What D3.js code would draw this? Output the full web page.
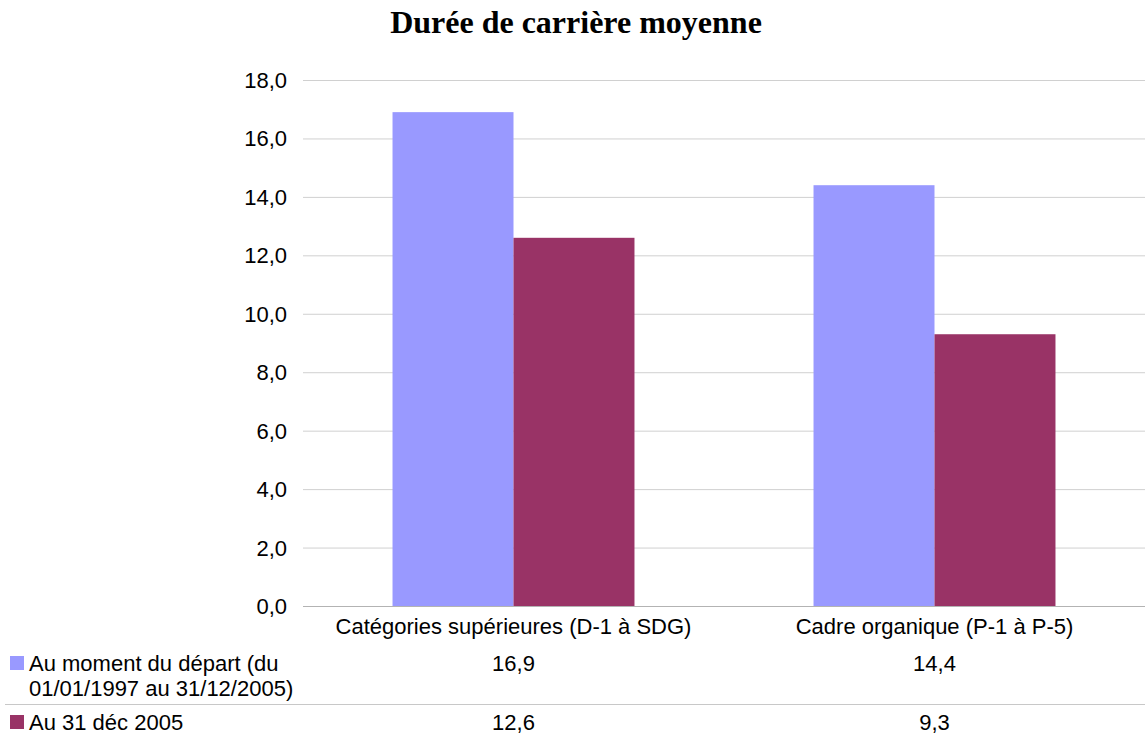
<!DOCTYPE html>
<html>
<head>
<meta charset="utf-8">
<script src="https://cdn.jsdelivr.net/npm/d3@7"></script>
<style>
  body { margin: 0; background: #fff; }
  text { font-family: "Liberation Sans", Arial, sans-serif; fill: #000; }
</style>
</head>
<body>
<script>
const width = 1145;
const height = 736;

const categories = ["Catégories supérieures (D-1 à SDG)", "Cadre organique (P-1 à P-5)"];
const seriesNames = ["Au moment du départ (du\n01/01/1997 au 31/12/2005)", "Au 31 déc 2005"];
const departValues = [16.9, 14.4];
const decValues = [12.6, 9.3];
const yTicks = [0, 2, 4, 6, 8, 10, 12, 14, 16, 18];
const colors = ["#9999ff", "#993366"];

const series = [departValues, decValues];
const fmt = v => d3.format(".1f")(v).replace(".", ",");
const fontSize = "22px";

const svg = d3.select("body").append("svg")
    .attr("width", width)
    .attr("height", height);

svg.append("text")
    .attr("x", 576)
    .attr("y", 33)
    .attr("text-anchor", "middle")
    .style("font-family", "'Liberation Serif', 'Times New Roman', serif")
    .style("font-weight", "bold")
    .style("font-size", "32px")
    .text("Durée de carrière moyenne");

const plotLeft = 303, plotRight = 1145, plotTop = 80, plotBottom = 606;

const x = d3.scaleBand()
    .domain(categories)
    .range([plotLeft, plotRight]);

// two bars per group, ~121px each inside a 421px band
const xInner = d3.scaleBand()
    .domain([0, 1])
    .range([0, x.bandwidth()])
    .paddingInner(0)
    .paddingOuter(0.74);

const y = d3.scaleLinear()
    .domain([0, 18])
    .range([plotBottom, plotTop]);

// grid
svg.append("g").selectAll("line")
    .data(yTicks)
    .join("line")
    .attr("x1", plotLeft)
    .attr("x2", plotRight)
    .attr("y1", d => y(d) + 0.5)
    .attr("y2", d => y(d) + 0.5)
    .attr("stroke", d => d === 0 ? "#b3b3b3" : "#d0d0d0")
    .attr("stroke-width", 1);

svg.append("g").selectAll("text")
    .data(yTicks)
    .join("text")
    .attr("x", 287)
    .attr("y", d => y(d) + 8)
    .attr("text-anchor", "end")
    .style("font-size", fontSize)
    .text(fmt);

// bars
series.forEach((vals, si) => {
    svg.append("g").selectAll("rect")
        .data(vals)
        .join("rect")
        .attr("x", (d, i) => x(categories[i]) + xInner(si))
        .attr("width", xInner.bandwidth())
        .attr("y", d => y(d))
        .attr("height", d => y(0) - y(d))
        .attr("fill", colors[si]);
});

// category labels
svg.append("g").selectAll("text")
    .data(categories)
    .join("text")
    .attr("x", d => x(d) + x.bandwidth() / 2)
    .attr("y", 634)
    .attr("text-anchor", "middle")
    .style("font-size", fontSize)
    .text(d => d);

// data table
const rowY = [671, 730];
svg.append("line")
    .attr("x1", 5).attr("x2", width)
    .attr("y1", 704.5).attr("y2", 704.5)
    .attr("stroke", "#c8c8c8");

series.forEach((vals, si) => {
    svg.append("rect")
        .attr("x", 10)
        .attr("y", rowY[si] - 15)
        .attr("width", 14)
        .attr("height", 14)
        .attr("fill", colors[si]);
    const lines = seriesNames[si].split("\n");
    svg.append("text")
        .attr("x", 29)
        .attr("y", rowY[si])
        .style("font-size", fontSize)
        .selectAll("tspan")
        .data(lines)
        .join("tspan")
        .attr("x", 29)
        .attr("dy", (d, i) => i === 0 ? 0 : 25)
        .text(d => d);
    svg.append("g").selectAll("text")
        .data(vals)
        .join("text")
        .attr("x", (d, i) => x(categories[i]) + x.bandwidth() / 2)
        .attr("y", rowY[si])
        .attr("text-anchor", "middle")
        .style("font-size", fontSize)
        .text(fmt);
});
</script>
</body>
</html>
